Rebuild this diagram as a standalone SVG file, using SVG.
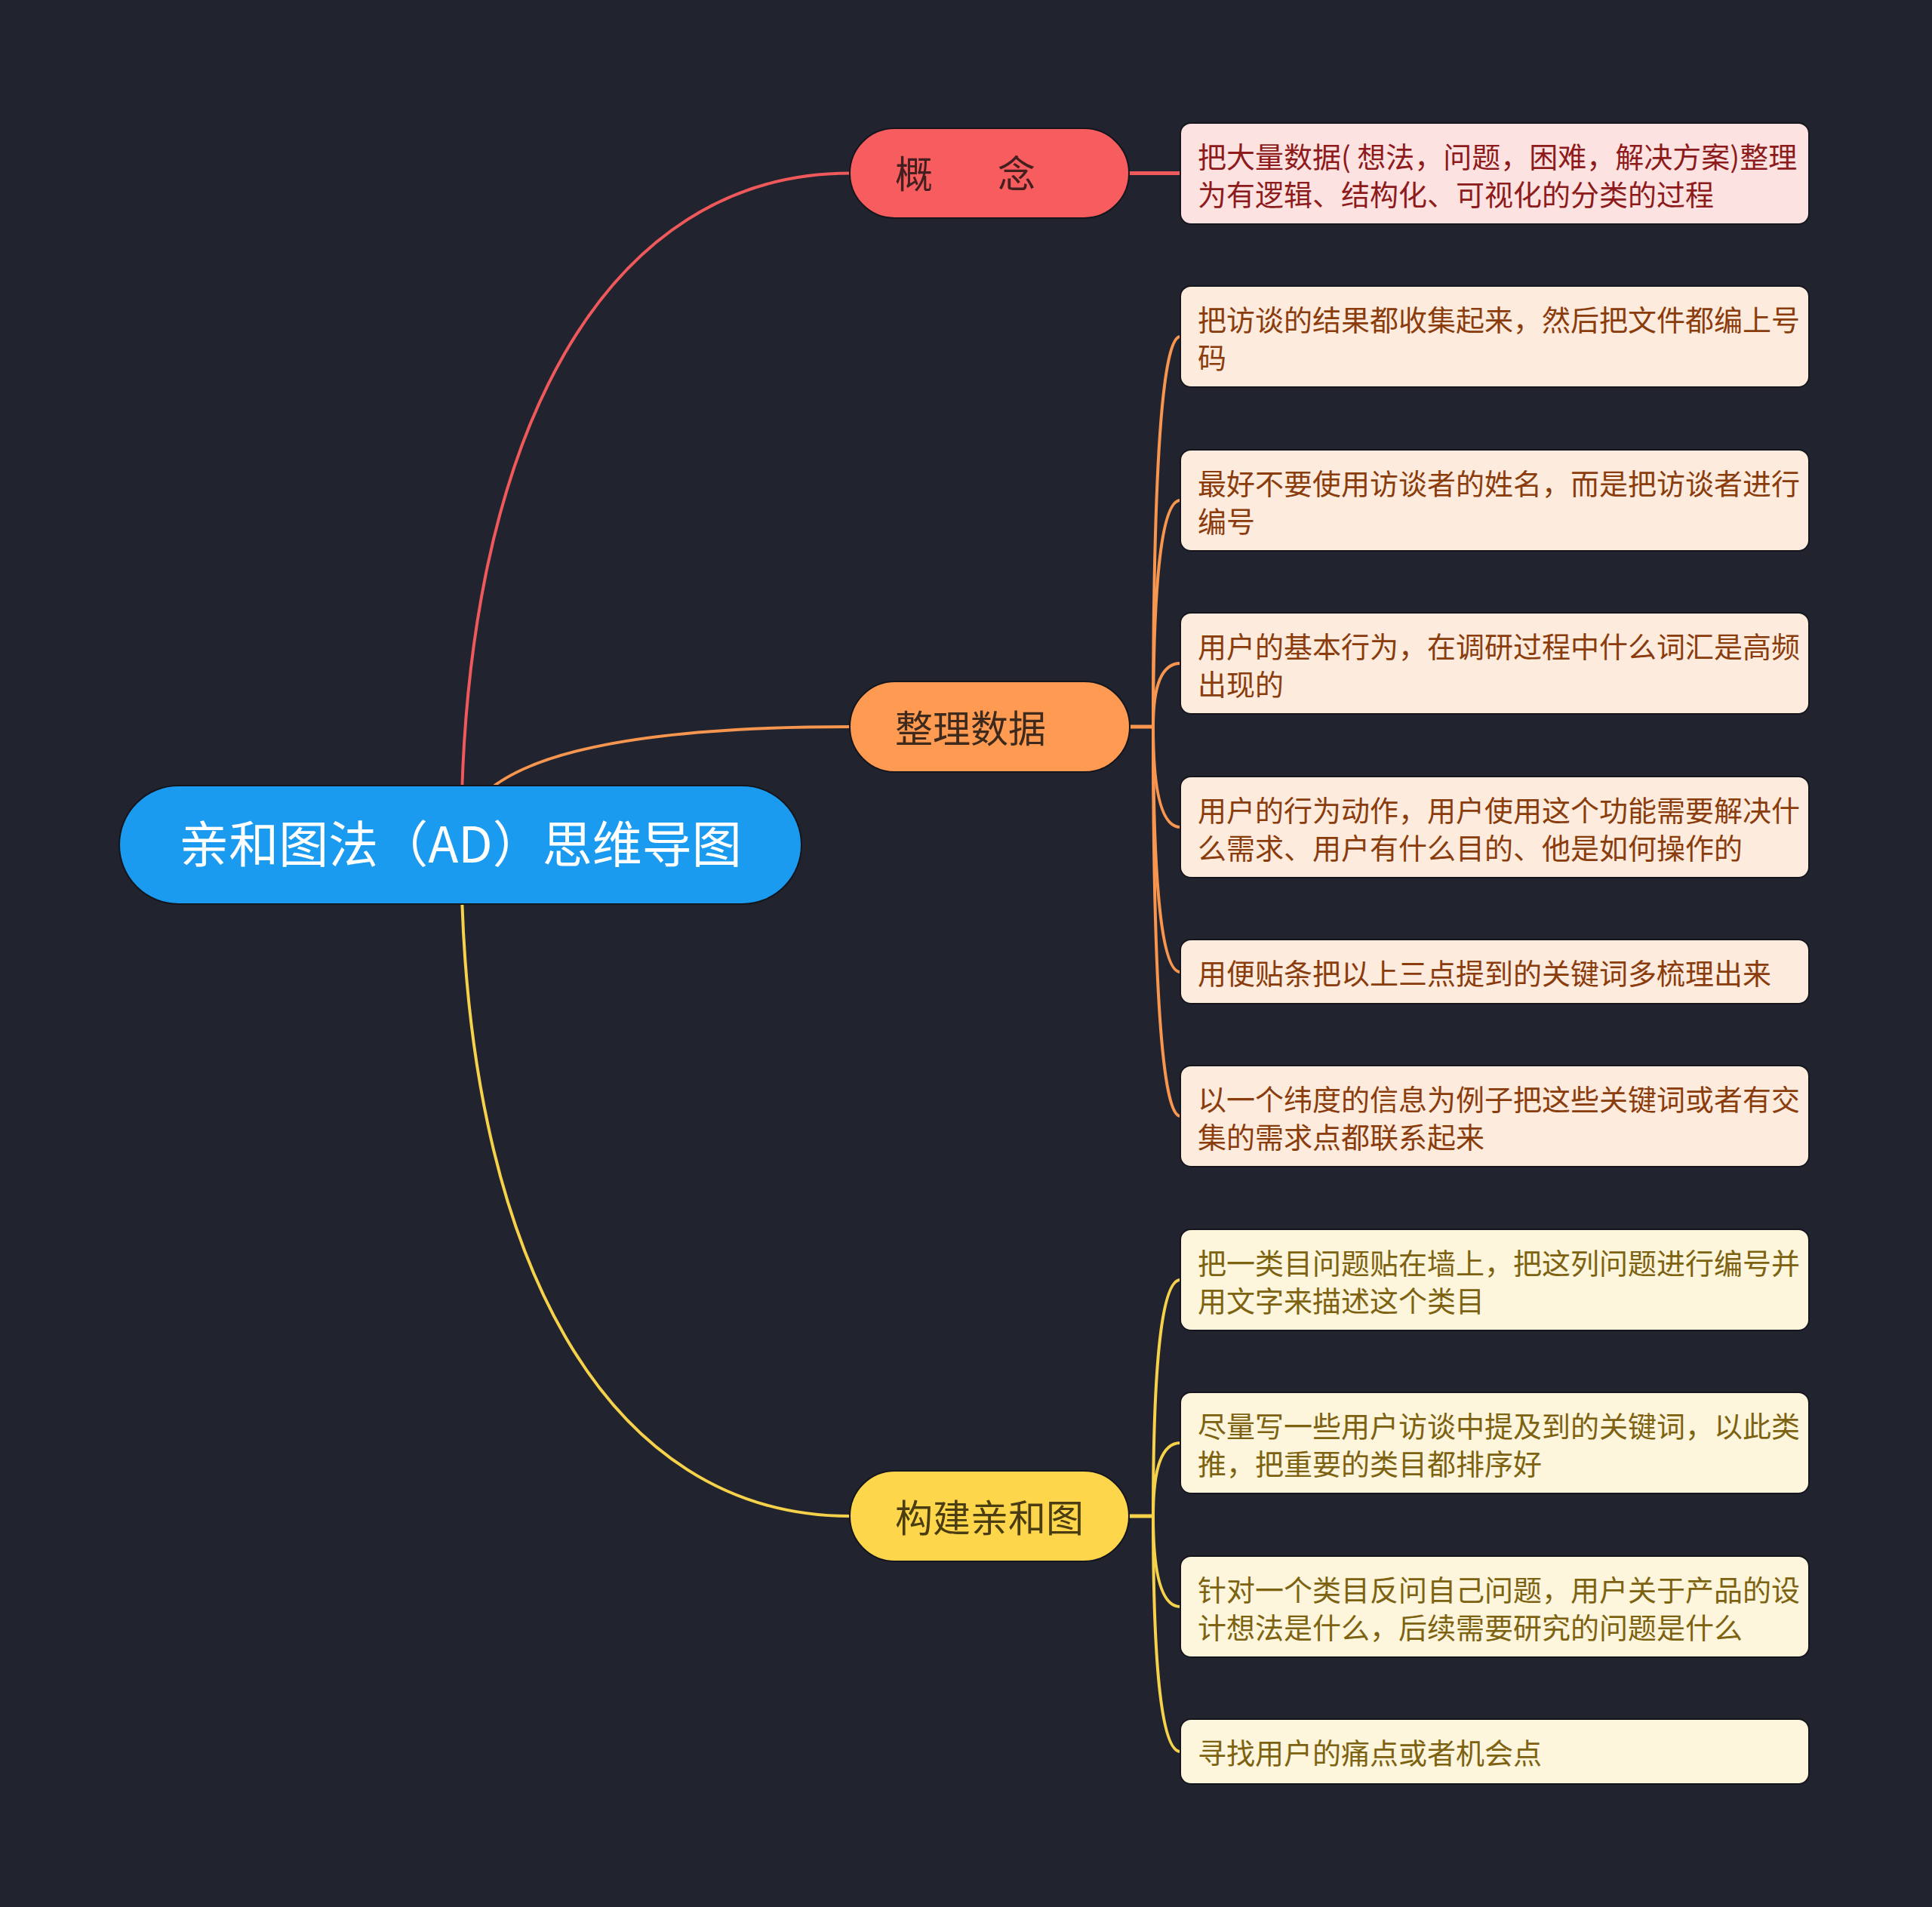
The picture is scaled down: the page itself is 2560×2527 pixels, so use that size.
<svg xmlns="http://www.w3.org/2000/svg" width="2560" height="2527" viewBox="0 0 2560 2527">
<style>
.cjk{font-family:"Noto Sans CJK SC","Noto Sans",sans-serif}
.root-t{font-size:66px;fill:#ffffff}
.br-t{font-size:50px}
.leaf-t{font-size:38px}
.c-red{fill:none;stroke:#f0595b;stroke-width:4}
.c-org{fill:none;stroke:#f8964f;stroke-width:4}
.c-yel{fill:none;stroke:#f6d14a;stroke-width:4}
.h{stroke-width:5}
.leaf-r{fill:#fde2e2;stroke:#15161d;stroke-width:2}
.leaf-o{fill:#fdebde;stroke:#15161d;stroke-width:2}
.leaf-y{fill:#fdf6dc;stroke:#15161d;stroke-width:2}
.tr{fill:#8e1b1b}
.to{fill:#8a3c0c}
.ty{fill:#7d6211}
</style>
<rect x="0" y="0" width="2560" height="2527" fill="#21242f"/>
<g id="connectors">
<path class="c-red" d="M611,1119 C611,567 807,229.5 1126,229.5"/>
<path class="c-org" d="M611,1119 Q611,963 1126,963"/>
<path class="c-yel" d="M611,1119 C611,1671 807,2009 1126,2009"/>
<path class="c-red h" d="M1496,229.5 L1564,229.5"/>
<path class="c-org h" d="M1497,963 L1528,963"/>
<path class="c-yel h" d="M1496,2009 L1528,2009"/>
<path class="c-org" d="M1528,963 Q1528,446 1564,446"/>
<path class="c-org" d="M1528,963 Q1528,663 1564,663"/>
<path class="c-org" d="M1528,963 Q1528,879 1564,879"/>
<path class="c-org" d="M1528,963 Q1528,1096 1564,1096"/>
<path class="c-org" d="M1528,963 Q1528,1288 1564,1288"/>
<path class="c-org" d="M1528,963 Q1528,1479 1564,1479"/>
<path class="c-yel" d="M1528,2009 Q1528,1696 1564,1696"/>
<path class="c-yel" d="M1528,2009 Q1528,1912 1564,1912"/>
<path class="c-yel" d="M1528,2009 Q1528,2129 1564,2129"/>
<path class="c-yel" d="M1528,2009 Q1528,2321 1564,2321"/>
</g>
<g id="root">
<rect x="158" y="1041" width="904" height="157" rx="78.5" fill="#1b9bef" stroke="#15161d" stroke-width="2"/>
<text class="cjk root-t" x="610" y="1143" text-anchor="middle">亲和图法（AD）思维导图</text>
</g>
<g id="branch-gainian">
<rect x="1126" y="170" width="370" height="119" rx="59.5" fill="#f75d5f" stroke="#15161d" stroke-width="2"/>
<text class="cjk br-t" fill="#43201f" x="1186 1322" y="249">概念</text>
</g>
<g id="branch-zhengli">
<rect x="1126" y="903" width="371" height="120" rx="60" fill="#fe9a52" stroke="#15161d" stroke-width="2"/>
<text class="cjk br-t" fill="#3d2a1c" x="1186" y="984">整理数据</text>
</g>
<g id="branch-goujian">
<rect x="1126" y="1949" width="370" height="120" rx="60" fill="#fdd64b" stroke="#15161d" stroke-width="2"/>
<text class="cjk br-t" fill="#4b3d12" x="1186" y="2030">构建亲和图</text>
</g>
<g id="leaf-1">
<rect class="leaf-r" x="1564" y="163" width="833" height="134" rx="14"/>
<text class="cjk leaf-t tr" x="1587" y="222">把大量数据( 想法，问题，困难，解决方案)整理</text>
<text class="cjk leaf-t tr" x="1587" y="272">为有逻辑、结构化、可视化的分类的过程</text>
</g>
<g id="leaf-2">
<rect class="leaf-o" x="1564" y="379" width="833" height="134" rx="14"/>
<text class="cjk leaf-t to" x="1587" y="438">把访谈的结果都收集起来，然后把文件都编上号</text>
<text class="cjk leaf-t to" x="1587" y="488">码</text>
</g>
<g id="leaf-3">
<rect class="leaf-o" x="1564" y="596" width="833" height="134" rx="14"/>
<text class="cjk leaf-t to" x="1587" y="655">最好不要使用访谈者的姓名，而是把访谈者进行</text>
<text class="cjk leaf-t to" x="1587" y="705">编号</text>
</g>
<g id="leaf-4">
<rect class="leaf-o" x="1564" y="812" width="833" height="134" rx="14"/>
<text class="cjk leaf-t to" x="1587" y="871">用户的基本行为，在调研过程中什么词汇是高频</text>
<text class="cjk leaf-t to" x="1587" y="921">出现的</text>
</g>
<g id="leaf-5">
<rect class="leaf-o" x="1564" y="1029" width="833" height="134" rx="14"/>
<text class="cjk leaf-t to" x="1587" y="1088">用户的行为动作，用户使用这个功能需要解决什</text>
<text class="cjk leaf-t to" x="1587" y="1138">么需求、用户有什么目的、他是如何操作的</text>
</g>
<g id="leaf-6">
<rect class="leaf-o" x="1564" y="1245" width="833" height="85" rx="14"/>
<text class="cjk leaf-t to" x="1587" y="1304">用便贴条把以上三点提到的关键词多梳理出来</text>
</g>
<g id="leaf-7">
<rect class="leaf-o" x="1564" y="1412" width="833" height="134" rx="14"/>
<text class="cjk leaf-t to" x="1587" y="1471">以一个纬度的信息为例子把这些关键词或者有交</text>
<text class="cjk leaf-t to" x="1587" y="1521">集的需求点都联系起来</text>
</g>
<g id="leaf-8">
<rect class="leaf-y" x="1564" y="1629" width="833" height="134" rx="14"/>
<text class="cjk leaf-t ty" x="1587" y="1688">把一类目问题贴在墙上，把这列问题进行编号并</text>
<text class="cjk leaf-t ty" x="1587" y="1738">用文字来描述这个类目</text>
</g>
<g id="leaf-9">
<rect class="leaf-y" x="1564" y="1845" width="833" height="134" rx="14"/>
<text class="cjk leaf-t ty" x="1587" y="1904">尽量写一些用户访谈中提及到的关键词，以此类</text>
<text class="cjk leaf-t ty" x="1587" y="1954">推，把重要的类目都排序好</text>
</g>
<g id="leaf-10">
<rect class="leaf-y" x="1564" y="2062" width="833" height="134" rx="14"/>
<text class="cjk leaf-t ty" x="1587" y="2121">针对一个类目反问自己问题，用户关于产品的设</text>
<text class="cjk leaf-t ty" x="1587" y="2171">计想法是什么，后续需要研究的问题是什么</text>
</g>
<g id="leaf-11">
<rect class="leaf-y" x="1564" y="2278" width="833" height="86" rx="14"/>
<text class="cjk leaf-t ty" x="1587" y="2337">寻找用户的痛点或者机会点</text>
</g>
</svg>
